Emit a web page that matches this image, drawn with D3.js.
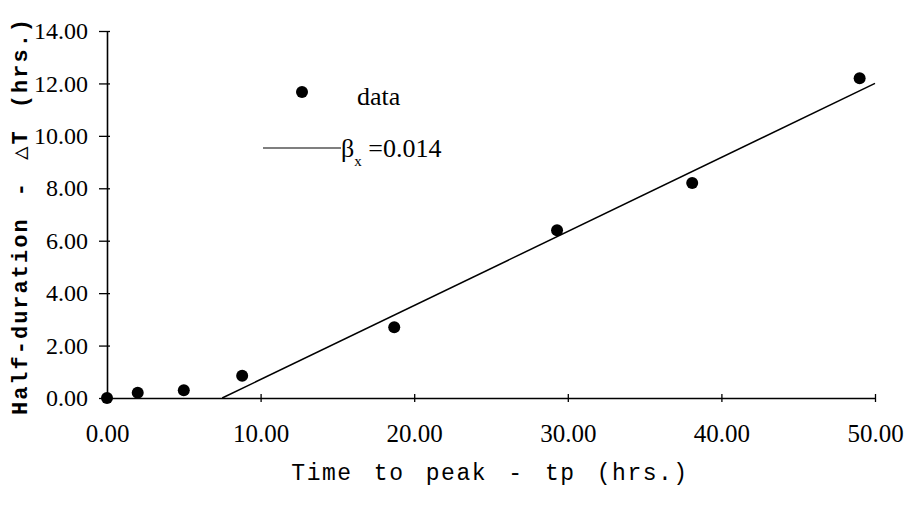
<!DOCTYPE html>
<html>
<head>
<meta charset="utf-8">
<script src="https://cdn.jsdelivr.net/npm/d3@7"></script>
<style>
  body { margin: 0; background: #fff; }
  svg { display: block; }
</style>
</head>
<body>
<div id="chart"></div>
<script>
// data
const tp = [0, 2.0, 5.0, 8.8, 18.7, 29.3, 38.1, 49.0];
const halfDur = [0, 0.2, 0.3, 0.85, 2.7, 6.4, 8.2, 12.2];
// fitted line (beta_x = 0.014)
const fitX = [7.5, 50];
const fitY = [0, 12.0];
const xTicks = [0, 10, 20, 30, 40, 50];
const yTicks = [0, 2, 4, 6, 8, 10, 12, 14];

const width = 907, height = 505;
const margin = { top: 31, right: 32, bottom: 107, left: 107 };
const w = width - margin.left - margin.right;
const h = height - margin.top - margin.bottom;

const svg = d3.select("#chart").append("svg")
  .attr("width", width)
  .attr("height", height);

const g = svg.append("g")
  .attr("transform", `translate(${margin.left},${margin.top})`);

const x = d3.scaleLinear().domain([0, 50]).range([0, w]);
const y = d3.scaleLinear().domain([0, 14]).range([h, 0]);

const serif = "'Liberation Serif', 'Times New Roman', serif";
const mono = "'Liberation Mono', 'Courier New', monospace";

// y axis
const yAxis = g.append("g")
  .call(d3.axisLeft(y).tickValues(yTicks).tickFormat(d3.format(".2f"))
    .tickSize(8).tickSizeOuter(0).tickPadding(11));
yAxis.select(".domain").attr("stroke-width", 1.6);
yAxis.selectAll(".tick line").attr("x2", 3).attr("x1", -8).attr("stroke-width", 1.3);
yAxis.selectAll(".tick text")
  .attr("font-family", serif).attr("font-size", 24).attr("fill", "#000");

// x axis
const xAxis = g.append("g")
  .attr("transform", `translate(0,${h})`)
  .call(d3.axisBottom(x).tickValues(xTicks).tickFormat(d3.format(".2f"))
    .tickSize(4).tickSizeOuter(0).tickPadding(22));
xAxis.select(".domain").attr("stroke-width", 1.6);
xAxis.selectAll(".tick line").attr("y1", -4).attr("y2", 4).attr("stroke-width", 1.3);
xAxis.selectAll(".tick text")
  .attr("font-family", serif).attr("font-size", 25).attr("fill", "#000");

// regression line
g.append("line")
  .attr("x1", x(fitX[0])).attr("y1", y(fitY[0]))
  .attr("x2", x(fitX[1])).attr("y2", y(fitY[1]))
  .attr("stroke", "#000").attr("stroke-width", 1.5);

// points
g.selectAll("circle.pt")
  .data(d3.zip(tp, halfDur))
  .join("circle")
  .attr("class", "pt")
  .attr("cx", d => x(d[0]))
  .attr("cy", d => y(d[1]))
  .attr("r", 6)
  .attr("fill", "#000");

// legend
const leg = svg.append("g");
leg.append("circle").attr("cx", 302).attr("cy", 92).attr("r", 6).attr("fill", "#000");
leg.append("text").attr("x", 357).attr("y", 105)
  .attr("font-family", serif).attr("font-size", 26).text("data");
leg.append("line").attr("x1", 263).attr("x2", 341).attr("y1", 148).attr("y2", 148)
  .attr("stroke", "#000").attr("stroke-width", 1.2);
const bt = leg.append("text").attr("x", 341).attr("y", 157)
  .attr("font-family", serif).attr("font-size", 26);
bt.append("tspan").text("β");
bt.append("tspan").attr("dy", 9).attr("font-size", 15).text("x");
bt.append("tspan").attr("dy", -9).text(" =0.014");

// axis titles
svg.append("text")
  .attr("x", 490).attr("y", 480)
  .attr("text-anchor", "middle")
  .attr("font-family", mono).attr("font-size", 23)
  .attr("letter-spacing", 1.5).attr("word-spacing", 6)
  .text("Time to peak - tp (hrs.)");

svg.append("text")
  .attr("transform", "translate(27,216) rotate(-90)")
  .attr("text-anchor", "middle")
  .attr("font-family", mono).attr("font-size", 22).attr("font-weight", "bold")
  .attr("letter-spacing", 2).attr("word-spacing", 6)
  .text("Half-duration - △T (hrs.)");
</script>
</body>
</html>
